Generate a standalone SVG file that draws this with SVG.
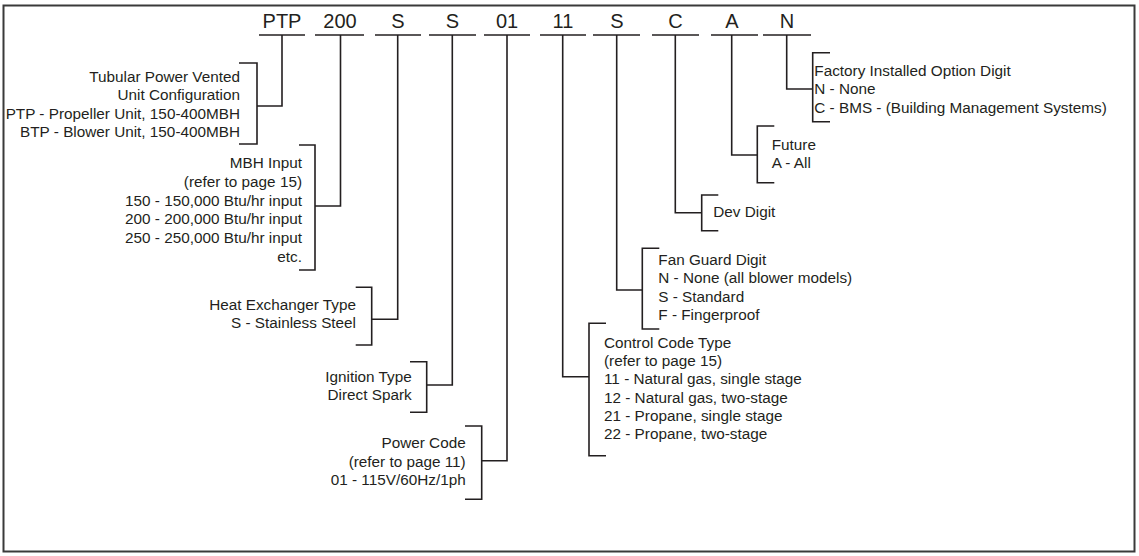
<svg xmlns="http://www.w3.org/2000/svg" width="1139" height="556" viewBox="0 0 1139 556">
<style>
.code{font-family:"Liberation Sans",Arial,sans-serif;font-size:20px;fill:#231f20;text-anchor:middle}
.t{font-family:"Liberation Sans",Arial,sans-serif;font-size:15.3px;fill:#231f20}
.r{text-anchor:end}
.ln{stroke:#231f20;stroke-width:1.6;fill:none}
</style>
<rect x="3.5" y="5.5" width="1131" height="546" fill="#fff" stroke="#3a3a3a" stroke-width="2"/>
<g id="code-ptp"><text class="code" x="282" y="28">PTP</text><line class="ln" x1="259" y1="35" x2="305" y2="35"/></g>
<g id="code-200"><text class="code" x="340" y="28">200</text><line class="ln" x1="315" y1="35" x2="364" y2="35"/></g>
<g id="code-s1"><text class="code" x="398" y="28">S</text><line class="ln" x1="375" y1="35" x2="421" y2="35"/></g>
<g id="code-s2"><text class="code" x="452.5" y="28">S</text><line class="ln" x1="429" y1="35" x2="476" y2="35"/></g>
<g id="code-01"><text class="code" x="507" y="28">01</text><line class="ln" x1="484" y1="35" x2="530" y2="35"/></g>
<g id="code-11"><text class="code" x="563" y="28">11</text><line class="ln" x1="540" y1="35" x2="586" y2="35"/></g>
<g id="code-s3"><text class="code" x="617" y="28">S</text><line class="ln" x1="593" y1="35" x2="640" y2="35"/></g>
<g id="code-c"><text class="code" x="675.5" y="28">C</text><line class="ln" x1="652" y1="35" x2="699" y2="35"/></g>
<g id="code-a"><text class="code" x="732" y="28">A</text><line class="ln" x1="711" y1="35" x2="758" y2="35"/></g>
<g id="code-n"><text class="code" x="787" y="28">N</text><line class="ln" x1="763" y1="35" x2="811" y2="35"/></g>

<g id="connectors" class="ln">
<polyline class="ln" points="282,35 282,106 257,106"/>
<polyline class="ln" points="340.5,35 340.5,206 315,206"/>
<polyline class="ln" points="397.7,35 397.7,319.3 371.7,319.3"/>
<polyline class="ln" points="452.3,35 452.3,385 426.7,385"/>
<polyline class="ln" points="507,35 507,460.7 481.7,460.7"/>
<polyline class="ln" points="562.7,35 562.7,376.7 589,376.7"/>
<polyline class="ln" points="616.7,35 616.7,290 642.3,290"/>
<polyline class="ln" points="675.3,35 675.3,212.7 701.7,212.7"/>
<polyline class="ln" points="731.7,35 731.7,155 757.3,155"/>
<polyline class="ln" points="786.7,35 786.7,89 812.7,89"/>
</g>

<g id="desc-config">
<polyline class="ln" points="239,63 257,63 257,144 239,144"/>
<text class="t r" x="240" y="82">Tubular Power Vented</text>
<text class="t r" x="240" y="100.3">Unit Configuration</text>
<text class="t r" x="240" y="118.6">PTP - Propeller Unit, 150-400MBH</text>
<text class="t r" x="240" y="136.9">BTP - Blower Unit, 150-400MBH</text>
</g>
<g id="desc-mbh">
<polyline class="ln" points="299,145 315,145 315,270 299,270"/>
<text class="t r" x="302" y="168.3">MBH Input</text>
<text class="t r" x="302" y="187">(refer to page 15)</text>
<text class="t r" x="302" y="205.7">150 - 150,000 Btu/hr input</text>
<text class="t r" x="302" y="224.4">200 - 200,000 Btu/hr input</text>
<text class="t r" x="302" y="243.1">250 - 250,000 Btu/hr input</text>
<text class="t r" x="302" y="261.8">etc.</text>
</g>
<g id="desc-hx">
<polyline class="ln" points="355.7,287.3 371.7,287.3 371.7,345 355.7,345"/>
<text class="t r" x="356" y="310">Heat Exchanger Type</text>
<text class="t r" x="356" y="328.3">S - Stainless Steel</text>
</g>
<g id="desc-ignition">
<polyline class="ln" points="410,361.7 426.7,361.7 426.7,412.3 410,412.3"/>
<text class="t r" x="411.7" y="381.7">Ignition Type</text>
<text class="t r" x="411.7" y="400.3">Direct Spark</text>
</g>
<g id="desc-power">
<polyline class="ln" points="465,426 481.7,426 481.7,499.3 465,499.3"/>
<text class="t r" x="465.7" y="448.3">Power Code</text>
<text class="t r" x="465.7" y="466.7">(refer to page 11)</text>
<text class="t r" x="465.7" y="485">01 - 115V/60Hz/1ph</text>
</g>
<g id="desc-control">
<polyline class="ln" points="606,323.3 589,323.3 589,455.7 606,455.7"/>
<text class="t" x="604" y="347.7">Control Code Type</text>
<text class="t" x="604" y="366">(refer to page 15)</text>
<text class="t" x="604" y="384.3">11 - Natural gas, single stage</text>
<text class="t" x="604" y="402.6">12 - Natural gas, two-stage</text>
<text class="t" x="604" y="420.9">21 - Propane, single stage</text>
<text class="t" x="604" y="439.2">22 - Propane, two-stage</text>
</g>
<g id="desc-fanguard">
<polyline class="ln" points="659.3,248.3 642.3,248.3 642.3,329 659.3,329"/>
<text class="t" x="658.3" y="265">Fan Guard Digit</text>
<text class="t" x="658.3" y="283.3">N - None (all blower models)</text>
<text class="t" x="658.3" y="301.6">S - Standard</text>
<text class="t" x="658.3" y="319.9">F - Fingerproof</text>
</g>
<g id="desc-dev">
<polyline class="ln" points="718.3,195 701.7,195 701.7,230.7 718.3,230.7"/>
<text class="t" x="713.3" y="217.3">Dev Digit</text>
</g>
<g id="desc-future">
<polyline class="ln" points="774.3,126 757.3,126 757.3,182.7 774.3,182.7"/>
<text class="t" x="771.7" y="149.5">Future</text>
<text class="t" x="771.7" y="167.5">A - All</text>
</g>
<g id="desc-factory">
<polyline class="ln" points="830,52.7 812.7,52.7 812.7,121.7 830,121.7"/>
<text class="t" x="814.3" y="76">Factory Installed Option Digit</text>
<text class="t" x="814.3" y="94.3">N - None</text>
<text class="t" x="814.3" y="112.6">C - BMS - (Building Management Systems)</text>
</g>
</svg>
